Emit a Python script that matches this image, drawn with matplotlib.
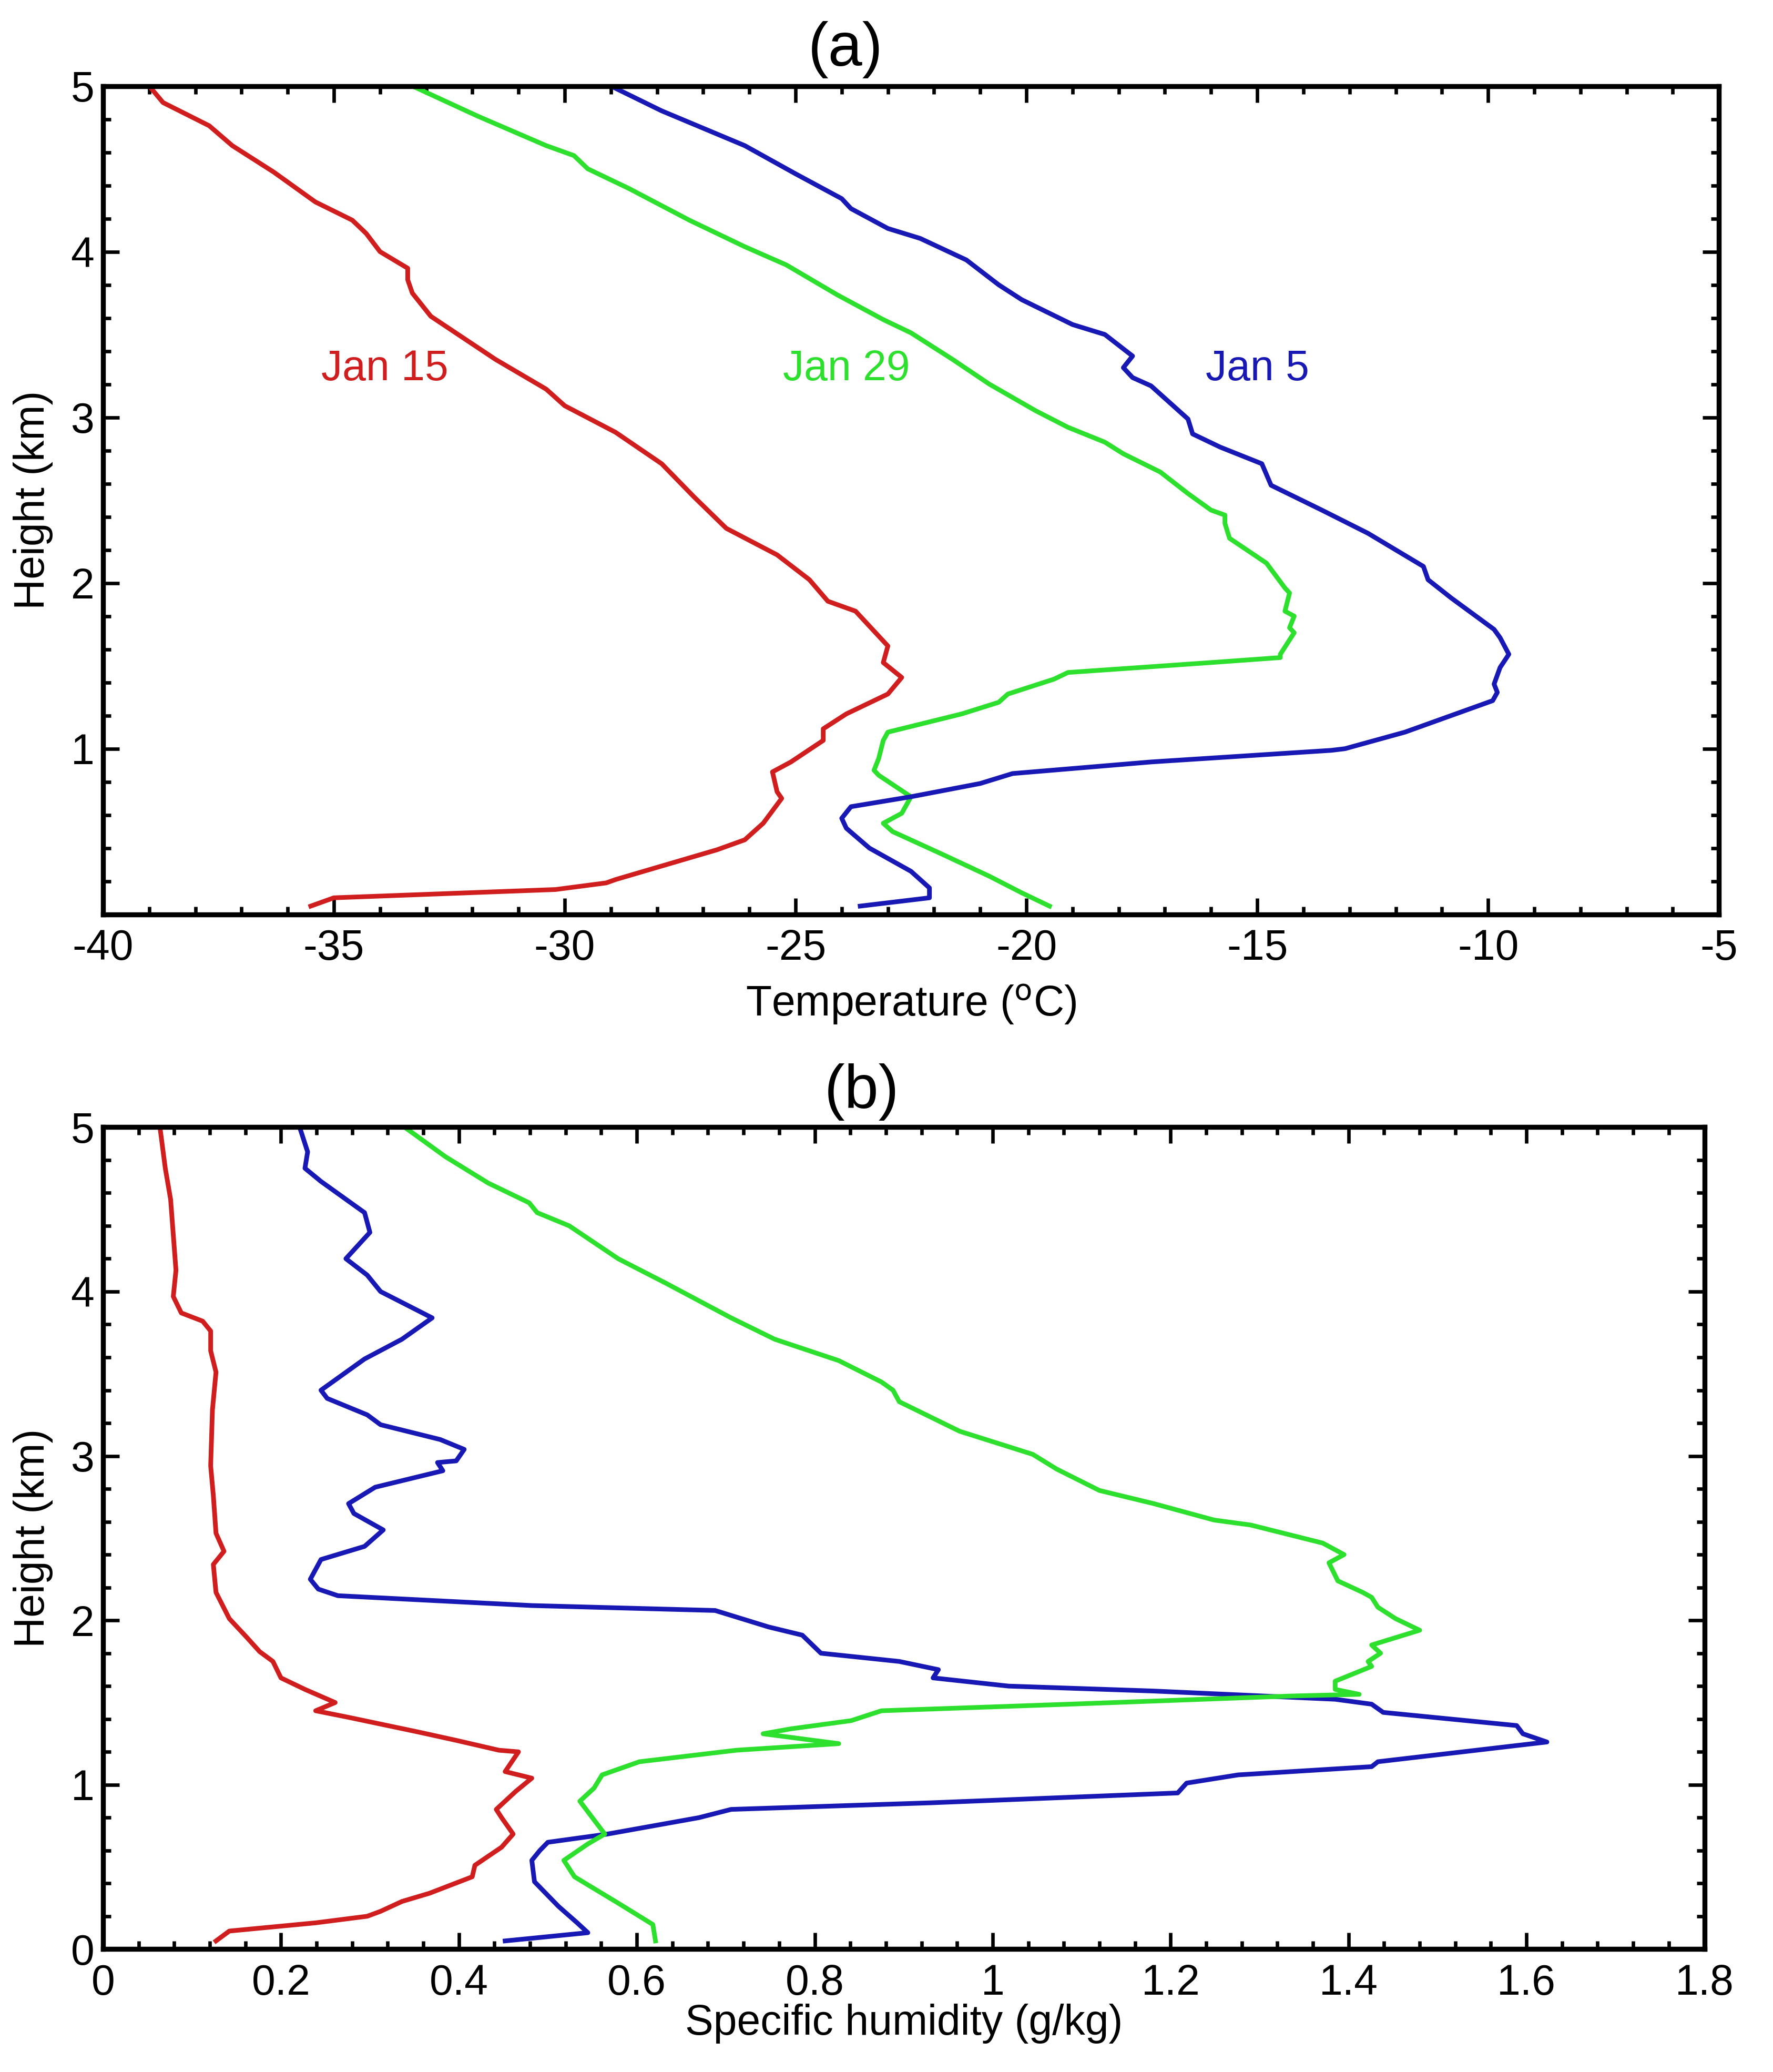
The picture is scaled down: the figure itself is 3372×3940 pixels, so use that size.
import matplotlib
matplotlib.use('Agg')
import matplotlib.pyplot as plt
from matplotlib.ticker import MultipleLocator

plt.rcParams['font.family'] = ['Liberation Sans', 'DejaVu Sans']
plt.rcParams['axes.unicode_minus'] = False

#Temperature profiles (panel a)
jan15_t = [-39.0, -38.7, -37.7, -37.2, -36.3, -35.4, -34.6, -34.3, -34.0, -33.4, -33.4, -33.3, -32.9, -31.5, -30.4,
           -30.0, -28.9, -27.9, -27.2, -26.5, -25.4, -24.7, -24.3, -23.7, -23.0, -23.1, -22.7, -23.0, -23.9, -24.4,
           -24.4, -25.1, -25.5, -25.4, -25.3, -25.7, -26.1, -26.7, -28.9, -29.1, -30.2, -35.0, -35.5]
jan15_th = [5.0, 4.90, 4.76, 4.64, 4.48, 4.30, 4.19, 4.11, 4.00, 3.90, 3.83, 3.75, 3.61, 3.35, 3.17,
            3.07, 2.91, 2.72, 2.52, 2.33, 2.17, 2.02, 1.89, 1.83, 1.62, 1.52, 1.43, 1.33, 1.21, 1.12,
            1.05, 0.92, 0.86, 0.74, 0.70, 0.55, 0.45, 0.39, 0.21, 0.19, 0.15, 0.10, 0.05]

jan29_t = [-33.3, -31.9, -30.4, -29.8, -29.5, -28.6, -27.3, -26.1, -25.2, -24.1, -23.1, -22.5, -21.6, -20.8, -19.8,
           -19.1, -18.3, -17.9, -17.1, -16.5, -16.0, -15.7, -15.7, -15.6, -14.8, -14.4, -14.3, -14.4, -14.2, -14.3,
           -14.2, -14.5, -14.5, -16.0, -19.1, -19.4, -20.4, -20.6, -21.4, -23.0, -23.1, -23.2, -23.3, -23.2, -22.5,
           -22.7, -23.1, -22.9, -21.8, -20.8, -20.1, -19.5]
jan29_th = [5.0, 4.82, 4.64, 4.58, 4.50, 4.38, 4.19, 4.03, 3.92, 3.74, 3.59, 3.51, 3.35, 3.20, 3.04,
            2.94, 2.85, 2.78, 2.67, 2.54, 2.44, 2.41, 2.36, 2.27, 2.12, 1.97, 1.94, 1.83, 1.80, 1.73,
            1.70, 1.57, 1.55, 1.52, 1.46, 1.42, 1.33, 1.28, 1.21, 1.10, 1.05, 0.94, 0.87, 0.84, 0.71,
            0.61, 0.55, 0.50, 0.36, 0.23, 0.13, 0.05]

jan5_t = [-29.0, -27.9, -26.1, -25.0, -24.0, -23.8, -23.0, -22.3, -21.3, -20.6, -20.1, -19.0, -18.3, -17.7, -17.9,
          -17.7, -17.3, -16.5, -16.4, -15.8, -14.9, -14.7, -13.6, -12.6, -11.4, -11.3, -10.8, -9.87, -9.74, -9.55,
          -9.74, -9.87, -9.8, -9.9, -11.8, -13.1, -13.4, -17.3, -20.3, -21.0, -22.5, -23.8, -24.0, -23.9, -23.4,
          -22.5, -22.1, -22.1, -23.6]
jan5_th = [5.0, 4.85, 4.64, 4.47, 4.32, 4.26, 4.14, 4.08, 3.95, 3.80, 3.71, 3.56, 3.50, 3.37, 3.30,
           3.24, 3.19, 2.99, 2.90, 2.82, 2.72, 2.59, 2.44, 2.30, 2.10, 2.02, 1.91, 1.72, 1.67, 1.57,
           1.49, 1.39, 1.34, 1.29, 1.10, 1.00, 0.99, 0.92, 0.85, 0.79, 0.71, 0.65, 0.58, 0.52, 0.40,
           0.26, 0.16, 0.10, 0.05]

#Specific humidity profiles (panel b)
jan15_q = [0.064, 0.070, 0.076, 0.082, 0.079, 0.088, 0.112, 0.121, 0.121, 0.127, 0.123, 0.121, 0.124, 0.127, 0.136,
           0.124, 0.127, 0.142, 0.161, 0.176, 0.191, 0.200, 0.227, 0.261, 0.239, 0.276, 0.355, 0.397, 0.445, 0.467,
           0.452, 0.482, 0.464, 0.442, 0.448, 0.461, 0.448, 0.418, 0.415, 0.367, 0.336, 0.312, 0.297, 0.239, 0.142,
           0.127]
jan15_qh = [5.0, 4.75, 4.56, 4.13, 3.97, 3.87, 3.82, 3.76, 3.64, 3.51, 3.28, 2.94, 2.76, 2.53, 2.42,
            2.34, 2.17, 2.01, 1.90, 1.81, 1.75, 1.65, 1.58, 1.50, 1.45, 1.41, 1.32, 1.27, 1.21, 1.20,
            1.08, 1.04, 0.96, 0.85, 0.80, 0.70, 0.62, 0.51, 0.44, 0.34, 0.29, 0.23, 0.20, 0.16, 0.11,
            0.05]

jan5_q = [0.221, 0.230, 0.227, 0.245, 0.294, 0.300, 0.273, 0.297, 0.312, 0.370, 0.336, 0.294, 0.245, 0.252, 0.297,
          0.312, 0.379, 0.406, 0.397, 0.376, 0.382, 0.306, 0.276, 0.282, 0.315, 0.294, 0.245, 0.233, 0.242, 0.264,
          0.482, 0.688, 0.748, 0.786, 0.807, 0.895, 0.939, 0.933, 1.018, 1.181, 1.385, 1.426, 1.439, 1.589, 1.596,
          1.623, 1.433, 1.426, 1.276, 1.218, 1.208, 0.930, 0.706, 0.670, 0.567, 0.500, 0.491, 0.482, 0.485, 0.512,
          0.533, 0.545, 0.452]
jan5_qh = [5.0, 4.85, 4.75, 4.67, 4.48, 4.36, 4.20, 4.10, 4.00, 3.84, 3.71, 3.59, 3.40, 3.35, 3.25,
           3.19, 3.10, 3.04, 2.97, 2.96, 2.91, 2.81, 2.71, 2.65, 2.55, 2.45, 2.37, 2.25, 2.19, 2.15,
           2.09, 2.06, 1.96, 1.91, 1.80, 1.75, 1.70, 1.65, 1.60, 1.57, 1.52, 1.49, 1.44, 1.36, 1.31,
           1.26, 1.14, 1.11, 1.06, 1.01, 0.95, 0.89, 0.85, 0.80, 0.70, 0.65, 0.60, 0.54, 0.41, 0.26,
           0.16, 0.10, 0.05]

jan29_q = [0.339, 0.385, 0.433, 0.479, 0.488, 0.524, 0.579, 0.633, 0.706, 0.755, 0.827, 0.875, 0.888, 0.895, 0.963,
           1.045, 1.072, 1.120, 1.181, 1.249, 1.290, 1.371, 1.395, 1.378, 1.388, 1.416, 1.426, 1.433, 1.453, 1.480,
           1.426, 1.436, 1.422, 1.426, 1.385, 1.385, 1.412, 1.337, 1.086, 0.875, 0.841, 0.773, 0.742, 0.827, 0.712,
           0.603, 0.561, 0.552, 0.536, 0.564, 0.545, 0.518, 0.530, 0.579, 0.618, 0.621]
jan29_qh = [5.0, 4.82, 4.66, 4.54, 4.48, 4.40, 4.20, 4.05, 3.84, 3.71, 3.58, 3.45, 3.40, 3.33, 3.15,
            3.01, 2.92, 2.79, 2.71, 2.61, 2.58, 2.47, 2.40, 2.35, 2.24, 2.17, 2.14, 2.08, 2.01, 1.94,
            1.85, 1.80, 1.75, 1.72, 1.63, 1.58, 1.55, 1.54, 1.49, 1.45, 1.39, 1.34, 1.31, 1.25, 1.21,
            1.14, 1.06, 0.98, 0.90, 0.70, 0.64, 0.54, 0.44, 0.28, 0.15, 0.05]

red = '#d01e1e'
green = '#2ee02e'
blue = '#1818b4'
lw = 3.2
fs = 29

fig = plt.figure(figsize=(16.86, 19.70), dpi=200)

def style(ax):
	for sp in ax.spines.values():
		sp.set_linewidth(3.4)
	ax.tick_params(which='both', direction='in', top=True, right=True, labelsize=fs, width=2.4)
	ax.tick_params(which='major', length=11, pad=10)
	ax.tick_params(which='minor', length=5.5)
	ax.tick_params(axis='y', which='major', pad=6)

#panel a
ax1 = fig.add_axes([0.0581, 0.5587, 0.9114, 0.3998])
ax1.plot(jan15_t, jan15_th, color=red, lw=lw)
ax1.plot(jan29_t, jan29_th, color=green, lw=lw)
ax1.plot(jan5_t, jan5_th, color=blue, lw=lw)
ax1.set_xlim(-40, -5)
ax1.set_ylim(0, 5)
ax1.xaxis.set_major_locator(MultipleLocator(5))
ax1.xaxis.set_minor_locator(MultipleLocator(1))
ax1.yaxis.set_major_locator(MultipleLocator(1))
ax1.yaxis.set_minor_locator(MultipleLocator(0.2))
ax1.set_yticks([0, 1, 2, 3, 4, 5])
ax1.set_yticklabels(['', '1', '2', '3', '4', '5'])
style(ax1)
ax1.set_xlabel('Temperature ($^{\\mathrm{o}}$C)', fontsize=fs, labelpad=9)
ax1.set_ylabel('Height (km)', fontsize=fs, labelpad=12)
ax1.text(-33.9, 3.29, 'Jan 15', color=red, fontsize=fs, ha='center', va='center')
ax1.text(-23.9, 3.29, 'Jan 29', color=green, fontsize=fs, ha='center', va='center')
ax1.text(-15.0, 3.29, 'Jan 5', color=blue, fontsize=fs, ha='center', va='center')
fig.text(0.477, 0.976, '(a)', fontsize=42, ha='center', va='center')

#panel b
ax2 = fig.add_axes([0.0581, 0.0593, 0.9032, 0.3967])
ax2.plot(jan15_q, jan15_qh, color=red, lw=lw)
ax2.plot(jan5_q, jan5_qh, color=blue, lw=lw)
ax2.plot(jan29_q, jan29_qh, color=green, lw=lw)
ax2.set_xlim(0, 1.8)
ax2.set_ylim(0, 5)
ax2.xaxis.set_major_locator(MultipleLocator(0.2))
ax2.xaxis.set_minor_locator(MultipleLocator(0.04))
ax2.yaxis.set_major_locator(MultipleLocator(1))
ax2.yaxis.set_minor_locator(MultipleLocator(0.2))
ax2.set_xticks([0, 0.2, 0.4, 0.6, 0.8, 1.0, 1.2, 1.4, 1.6, 1.8])
ax2.set_xticklabels(['0', '0.2', '0.4', '0.6', '0.8', '1', '1.2', '1.4', '1.6', '1.8'])
style(ax2)
ax2.set_xlabel('Specific humidity (g/kg)', fontsize=fs, labelpad=0)
ax2.set_ylabel('Height (km)', fontsize=fs, labelpad=12)
fig.text(0.486, 0.473, '(b)', fontsize=42, ha='center', va='center')

plt.savefig('out.png', dpi=200)
